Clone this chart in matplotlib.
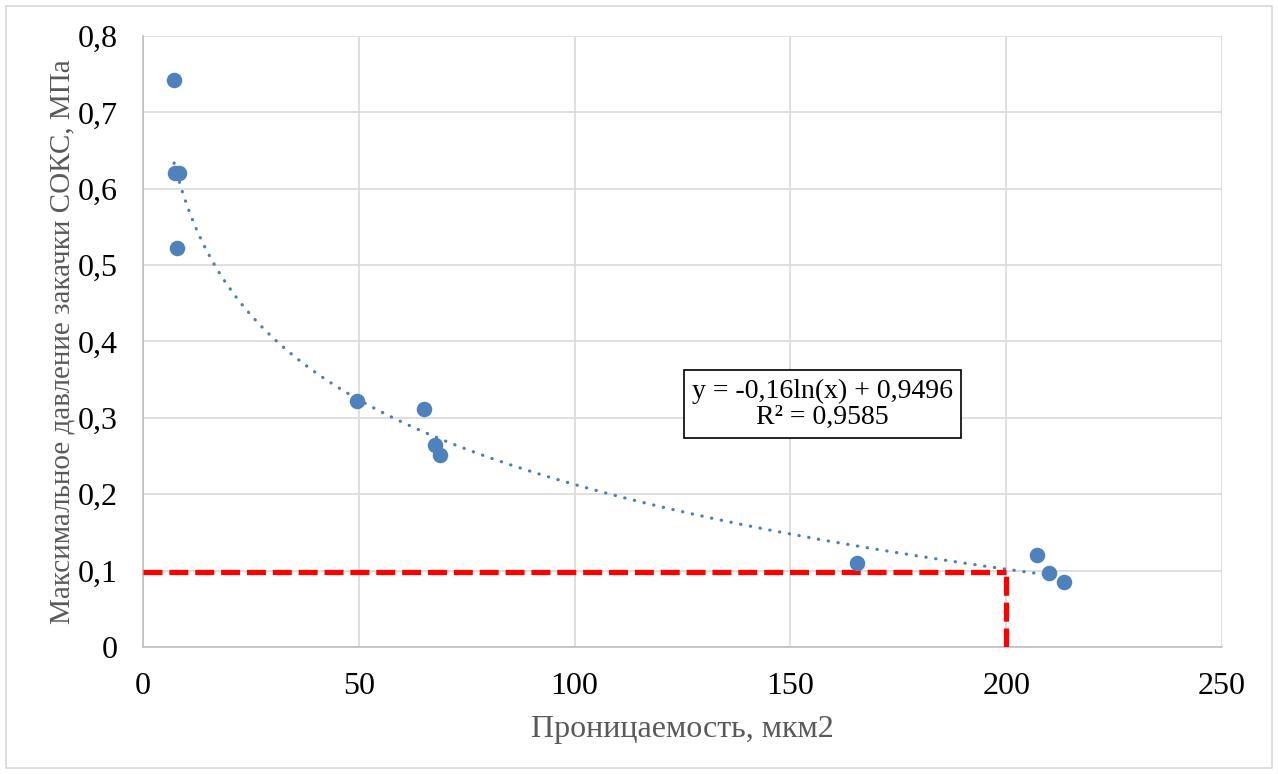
import numpy as np
import matplotlib.pyplot as plt
from matplotlib.patches import Rectangle

# permeability (x) vs max injection pressure (y)
perm = [7.2, 7.4, 8.3, 7.9, 49.5, 65.0, 67.6, 68.8, 165.5, 207.2, 210.0, 213.4]
pressure = [0.743, 0.620, 0.621, 0.523, 0.322, 0.311, 0.264, 0.251, 0.110, 0.120, 0.097, 0.085]

# log trendline coefficients as shown on chart
a_coef, b_coef = -0.16, 0.9496
r2 = 0.9585
trend_x_range = [7.2, 213.4]

# red guide lines
guide_x = 200
guide_y = 0.098

plt.rcParams['font.family'] = ['Liberation Serif', 'DejaVu Serif']

fig = plt.figure(figsize=(12.78, 7.74), dpi=100)
ax = fig.add_axes([0.1119, 0.1641, 0.8443, 0.7894])

# outer border of the chart
fig.patches.append(Rectangle((6 / 1278, 6 / 774), 1266 / 1278, 762 / 774,
                             transform=fig.transFigure, fill=False,
                             edgecolor='#d9d9d9', linewidth=1.2))

xs = np.linspace(trend_x_range[0], trend_x_range[1], 400)
ax.plot(xs, a_coef * np.log(xs) + b_coef, color='#4a7ebb', linewidth=2.3,
        linestyle=(0, (0.1, 3.0)), dash_capstyle='round', zorder=3)

ax.plot([0, guide_x], [guide_y, guide_y], color='#ff0000', linewidth=3.8,
        linestyle=(0, (3.6, 1.3)), dash_capstyle='butt', zorder=4)
ax.plot([guide_x, guide_x], [0, guide_y], color='#ff0000', linewidth=3.8,
        linestyle=(0, (3.6, 1.3)), dash_capstyle='butt', zorder=4)

ax.scatter(perm, pressure, s=125, color='#4f81bd', zorder=5, linewidths=0)

ax.text(157.4, 0.318, f'y = {a_coef:.2f}ln(x) + {b_coef}\nR² = {r2}'.replace('.', ','),
        ha='center', va='center', fontsize=20, linespacing=1.05,
        bbox=dict(boxstyle='square,pad=0.3', facecolor='white', edgecolor='black', linewidth=1.2),
        zorder=6)

ax.set_xlim(0, 250)
ax.set_ylim(0, 0.8)
ax.set_xticks(np.arange(0, 251, 50))
ax.set_yticks(np.arange(0, 0.81, 0.1))
ax.set_yticklabels(['0'] + [f'{v:.1f}'.replace('.', ',') for v in np.arange(0.1, 0.81, 0.1)])
ax.tick_params(labelsize=23, length=0, colors='black')
ax.tick_params(axis='x', pad=18)
ax.tick_params(axis='y', pad=18)

ax.grid(True, color='#d9d9d9', linewidth=1.2)
ax.set_axisbelow(True)
for side in ['top', 'right']:
    ax.spines[side].set_visible(False)
for side in ['left', 'bottom']:
    ax.spines[side].set_color('#bfbfbf')
    ax.spines[side].set_linewidth(1.2)

ax.set_xlabel('Проницаемость, мкм2', fontsize=23, color='#595959', labelpad=10)
ax.set_ylabel('Максимальное давление закачки СОКС, МПа', fontsize=21, color='#595959', labelpad=2)

fig.savefig('out.png', dpi=100)
